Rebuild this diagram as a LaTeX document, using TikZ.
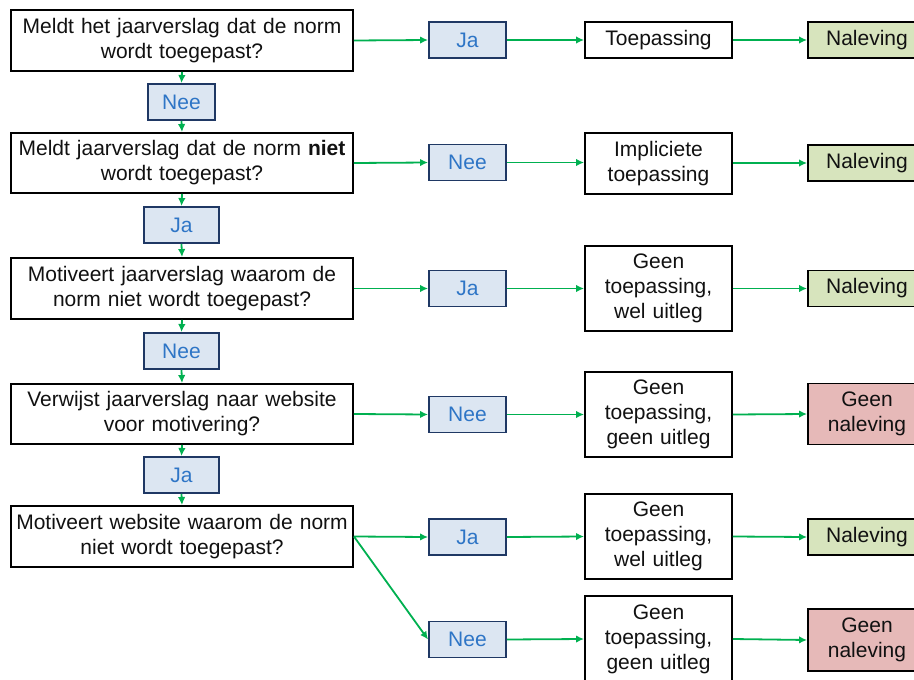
\documentclass[tikz,border=0pt]{standalone}
\usepackage{fontspec}
\setmainfont{Liberation Sans}[WordSpace=0.7]
\usetikzlibrary{arrows.meta}
\definecolor{arrowgreen}{HTML}{00B050}
\definecolor{ansfill}{HTML}{DCE6F2}
\definecolor{ansdraw}{HTML}{1F3864}
\definecolor{anstext}{HTML}{2E75C6}
\definecolor{okfill}{HTML}{D7E4BD}
\definecolor{badfill}{HTML}{E6B9B8}
\definecolor{txt}{HTML}{111111}
\tikzset{
  base/.style={rectangle, inner sep=0pt, align=center, text=txt,
    font=\fontsize{21}{25}\selectfont},
  qbox/.style={base, draw=black, line width=1.9pt, fill=white, minimum width=342pt, text width=340pt},
  ans/.style={base, draw=ansdraw, line width=1.9pt, fill=ansfill, text=anstext, minimum height=36pt},
  res/.style={base, draw=black, line width=1.9pt, fill=white, minimum width=147pt, text width=145pt},
  ok/.style={base, draw=black, line width=1.9pt, fill=okfill, minimum width=118pt, text width=116pt},
  bad/.style={base, draw=black, line width=1.9pt, fill=badfill, minimum width=118pt, text width=116pt},
  link/.style={draw=arrowgreen, line width=1.8pt, -{Latex[length=8pt,width=7.5pt]}}
}
\begin{document}
\begin{tikzpicture}[x=1pt,y=-1pt]
\useasboundingbox (0,0) rectangle (914,680);
\clip (0,0) rectangle (914,680);
% questions
\node[qbox, minimum height=61pt] (q1) at (182,40.5) {Meldt het jaarverslag dat de norm\\wordt toegepast?};
\node[qbox, minimum height=60pt] (q2) at (182,163) {Meldt jaarverslag dat de norm \textbf{niet}\\wordt toegepast?};
\node[qbox, minimum height=61pt] (q3) at (182,288.5) {Motiveert jaarverslag waarom de\\norm niet wordt toegepast?};
\node[qbox, minimum height=60pt] (q4) at (182,414) {Verwijst jaarverslag naar website\\voor motivering?};
\node[qbox, minimum height=61pt] (q5) at (182,536.5) {Motiveert website waarom de norm\\niet wordt toegepast?};
% left answers
\node[ans, minimum width=67pt] (a1) at (181.5,102) {Nee};
\node[ans, minimum width=75pt] (a2) at (181.5,225) {Ja};
\node[ans, minimum width=75pt] (a3) at (181.5,351) {Nee};
\node[ans, minimum width=75pt] (a4) at (181.5,475) {Ja};
% middle answers
\node[ans, minimum width=77pt] (m1) at (467.5,40) {Ja};
\node[ans, minimum width=77pt] (m2) at (467.5,162.5) {Nee};
\node[ans, minimum width=77pt] (m3) at (467.5,288.5) {Ja};
\node[ans, minimum width=77pt] (m4) at (467.5,414.5) {Nee};
\node[ans, minimum width=77pt] (m5) at (467.5,537) {Ja};
\node[ans, minimum width=77pt] (m6) at (467.5,639.5) {Nee};
% results
\node[res, minimum height=36pt] (r1) at (658.5,40) {Toepassing};
\node[res, minimum height=61pt] (r2) at (658.5,163.5) {Impliciete\\toepassing};
\node[res, minimum height=85pt] (r3) at (658.5,288.5) {Geen\\toepassing,\\wel uitleg};
\node[res, minimum height=85pt] (r4) at (658.5,414.5) {Geen\\toepassing,\\geen uitleg};
\node[res, minimum height=85pt] (r5) at (658.5,536.5) {Geen\\toepassing,\\wel uitleg};
\node[res, minimum height=86pt] (r6) at (658.5,639) {Geen\\toepassing,\\geen uitleg};
% compliance
\node[ok, minimum height=36pt] (n1) at (867,40) {Naleving};
\node[ok, minimum height=36pt] (n2) at (867,163) {Naleving};
\node[ok, minimum height=36pt] (n3) at (867,288.5) {Naleving};
\node[bad, minimum height=61pt] (n4) at (867,414) {Geen\\naleving};
\node[ok, minimum height=36pt] (n5) at (867,537) {Naleving};
\node[bad, minimum height=62pt] (n6) at (867,640) {Geen\\naleving};
% vertical links
\draw[link] (q1.south) -- (a1.north);
\draw[link] (a1.south) -- (q2.north);
\draw[link] (q2.south) -- (a2.north);
\draw[link] (a2.south) -- (q3.north);
\draw[link] (q3.south) -- (a3.north);
\draw[link] (a3.south) -- (q4.north);
\draw[link] (q4.south) -- (a4.north);
\draw[link] (a4.south) -- (q5.north);
% horizontal links
\draw[link] (q1.east) -- (m1.west);
\draw[link] (m1.east) -- (r1.west);
\draw[link] (r1.east) -- (n1.west);
\draw[link] (q2.east) -- (m2.west);
\draw[link] (m2.east) -- (r2.west |- m2.east);
\draw[link] (r2.east |- n2.west) -- (n2.west);
\draw[link] (q3.east) -- (m3.west);
\draw[link] (m3.east) -- (r3.west);
\draw[link] (r3.east) -- (n3.west);
\draw[link] (q4.east) -- (m4.west);
\draw[link] (m4.east) -- (r4.west);
\draw[link] (r4.east) -- (n4.west);
\draw[link] (q5.east) -- (m5.west);
\draw[link] (q5.east) -- (m6.west);
\draw[link] (m5.east) -- (r5.west);
\draw[link] (r5.east) -- (n5.west);
\draw[link] (m6.east) -- (r6.west);
\draw[link] (r6.east) -- (n6.west);
\end{tikzpicture}
\end{document}
